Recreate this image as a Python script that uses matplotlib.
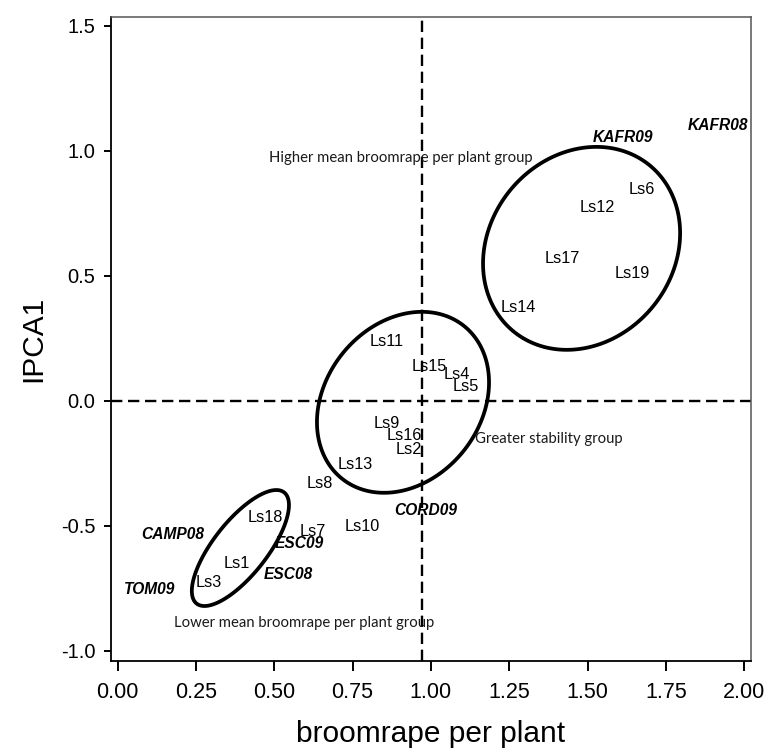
import numpy as np
import matplotlib
matplotlib.use("Agg")
import matplotlib.pyplot as plt
from matplotlib.patches import Polygon

# ---------------- data ----------------
genotypes = ["Ls6", "Ls12", "Ls17", "Ls19", "Ls14", "Ls11", "Ls15", "Ls4", "Ls5",
             "Ls9", "Ls16", "Ls2", "Ls13", "Ls8", "Ls18", "Ls10", "Ls7", "Ls1", "Ls3"]
geno_x = [1.674, 1.530, 1.419, 1.642, 1.278, 0.860, 0.994, 1.083, 1.112,
          0.860, 0.914, 0.930, 0.758, 0.646, 0.471, 0.780, 0.624, 0.381, 0.292]
geno_y = [0.844, 0.772, 0.568, 0.508, 0.372, 0.236, 0.136, 0.104, 0.056,
          -0.092, -0.140, -0.196, -0.256, -0.332, -0.465, -0.501, -0.521, -0.649, -0.725]

environments = ["KAFR08", "KAFR09", "CORD09", "CAMP08", "ESC09", "ESC08", "TOM09"]
env_x = [1.917, 1.613, 0.984, 0.177, 0.579, 0.544, 0.103]
env_y = [1.100, 1.052, -0.437, -0.533, -0.569, -0.693, -0.753]

mean_x = 0.973   # grand mean of broomrape per plant (vertical reference line)
ref_y = 0.0

# group ellipses: centre, half-extent in x, half-extent in y, correlation
group_cx = [1.481, 0.911, 0.392]
group_cy = [0.610, -0.006, -0.589]
group_hx = [0.3145, 0.2746, 0.155]
group_hy = [0.406, 0.362, 0.232]
group_rho = [0.15, 0.22, 0.74]

group_names = ["Higher mean broomrape per plant group",
               "Greater stability group",
               "Lower mean broomrape per plant group"]
group_lx = [0.905, 1.377, 0.595]
group_ly = [0.972, -0.152, -0.889]

xticks = [0.00, 0.25, 0.50, 0.75, 1.00, 1.25, 1.50, 1.75, 2.00]
yticks = [-1.0, -0.5, 0.0, 0.5, 1.0, 1.5]

# ---------------- figure ----------------
fig = plt.figure(figsize=(7.66, 7.51), dpi=100)
ax = fig.add_axes([0.1445, 0.1192, 0.836, 0.8586])
ax.set_xlim(-0.022, 2.022)
ax.set_ylim(-1.043, 1.537)

dash_kw = dict(color="black", lw=1.7, dashes=(4.8, 2.4))
ax.axvline(mean_x, **dash_kw)
ax.axhline(ref_y, **dash_kw)

t = np.linspace(0, 2 * np.pi, 400, endpoint=False)
for cx, cy, hx, hy, r in zip(group_cx, group_cy, group_hx, group_hy, group_rho):
    ex = cx + hx * np.cos(t)
    ey = cy + hy * (r * np.cos(t) + np.sqrt(1 - r * r) * np.sin(t))
    ax.add_patch(Polygon(np.column_stack([ex, ey]), closed=True, fill=False,
                         edgecolor="black", lw=2.7, joinstyle="round"))

sans = ["Liberation Sans", "DejaVu Sans"]
for name, x, y in zip(genotypes, geno_x, geno_y):
    ax.text(x, y, name, ha="center", va="center", fontsize=11.7, family=sans)

for name, x, y in zip(environments, env_x, env_y):
    ax.text(x, y, name, ha="center", va="center", fontsize=11.2,
            fontweight="bold", fontstyle="italic", family=sans)

for name, x, y in zip(group_names, group_lx, group_ly):
    ax.text(x, y, name, ha="center", va="center", fontsize=10.7,
            family=["Lato", "DejaVu Sans"], color="#1a1a1a")

ax.set_xticks(xticks)
ax.set_xticklabels([f"{v:.2f}" for v in xticks], fontsize=15.5, family=sans)
ax.set_yticks(yticks)
ax.set_yticklabels([f"{v:.1f}" for v in yticks], fontsize=14.5, family=sans)
ax.tick_params(axis="x", direction="out", length=7, width=1.4, pad=8)
ax.tick_params(axis="y", direction="out", length=5, width=1.4, pad=6)

ax.set_xlabel("broomrape per plant", fontsize=21.5, family=sans, labelpad=12)
ax.set_ylabel("IPCA1", fontsize=21.5, family=sans, labelpad=10)

for side in ["left", "bottom"]:
    ax.spines[side].set_color("black")
    ax.spines[side].set_linewidth(1.3)
for side in ["top", "right"]:
    ax.spines[side].set_color("#555555")
    ax.spines[side].set_linewidth(1.1)

fig.savefig("out.png", dpi=100)
